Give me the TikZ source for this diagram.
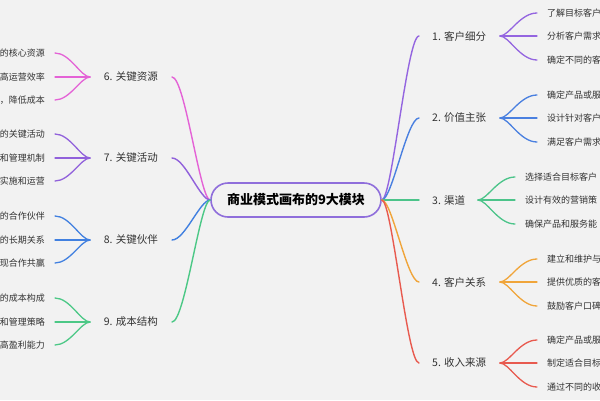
\documentclass[tikz,border=0pt]{standalone}
\usepackage{fontspec}
\setmainfont{Noto Sans CJK SC}
\definecolor{bgc}{HTML}{F2F2F2}
\definecolor{ctr}{HTML}{8F6EDB}
\definecolor{cA}{HTML}{9465E0}
\definecolor{cB}{HTML}{4A80E0}
\definecolor{cC}{HTML}{4CC48A}
\definecolor{cD}{HTML}{F0A53A}
\definecolor{cE}{HTML}{E85A4F}
\definecolor{cF}{HTML}{E462D6}
\definecolor{cG}{HTML}{9161DB}
\definecolor{cH}{HTML}{4180E0}
\definecolor{cI}{HTML}{4CC886}
\definecolor{txt}{HTML}{333333}
\begin{document}
\begin{tikzpicture}[x=1pt,y=-1pt,
  conn/.style={line width=1.4pt, line cap=round},
  twig/.style={line width=1.3pt, line cap=round},
  lbl/.style={font=\fontsize{10.5}{12}\selectfont, text=txt, inner sep=0pt},
  leaf/.style={font=\fontsize{9}{11}\selectfont, text=txt, inner sep=0pt},
  hub/.style={draw=ctr, line width=1.6pt, rounded corners=17pt, minimum width=170pt, minimum height=34pt, fill=bgc, font=\bfseries\fontsize{13}{15}\selectfont}]
\fill[bgc] (0,0) rectangle (600,400);
\useasboundingbox (0,0) rectangle (600,400);
\node[hub] (c) at (296,200) {商业模式画布的9大模块};
% right side
\foreach \i/\y/\col/\t/\a/\b/\cc/\o in {
 1/36/cA/客户细分/了解目标客户/分析客户需求/确定不同的客/500,
 2/118/cB/价值主张/确定产品或服/设计针对客户/满足客户需求/500,
 3/200/cC/渠道/选择适合目标客户/设计有效的营销策/确保产品和服务能/478,
 4/282/cD/客户关系/建立和维护与/提供优质的客/鼓励客户口碑/500,
 5/363/cE/收入来源/确定产品或服/制定适合目标/通过不同的收/500}
{
 \coordinate (re\i) at (419,\y);
 \node[lbl,anchor=west] (R\i) at (432,\y) {\i. \t};
 \draw[conn,\col] (c.east) .. controls (392,200) and (407,\y) .. (re\i);
 \coordinate (fo\i) at (\o,\y);
 \coordinate (le\i-a) at ({\o+37},{\y-23});
 \coordinate (le\i-b) at ({\o+37},\y);
 \coordinate (le\i-c) at ({\o+37},{\y+24});
 \draw[twig,\col] (fo\i) .. controls ({\o+9},\y) and ({\o+20},{\y-23}) .. (le\i-a);
 \draw[twig,\col] (fo\i) -- (le\i-b);
 \draw[twig,\col] (fo\i) .. controls ({\o+9},\y) and ({\o+20},{\y+24}) .. (le\i-c);
 \node[leaf,anchor=west] (L\i-a) at ({\o+47},{\y-23}) {\a};
 \node[leaf,anchor=west] (L\i-b) at ({\o+47},\y) {\b};
 \node[leaf,anchor=west] (L\i-c) at ({\o+47},{\y+24}) {\cc};
}
% left side
\foreach \i/\y/\col/\t/\a/\b/\cc in {
 6/77/cF/关键资源/的核心资源/高运营效率/，降低成本,
 7/158/cG/关键活动/的关键活动/和管理机制/实施和运营,
 8/240/cH/关键伙伴/的合作伙伴/的长期关系/现合作共赢,
 9/322/cI/成本结构/的成本构成/和管理策略/高盈利能力}
{
 \coordinate (re\i) at (172,\y);
 \node[lbl,anchor=east] (R\i) at (158,\y) {\i. \t};
 \draw[conn,\col] (c.west) .. controls (200,200) and (185,\y) .. (re\i);
 \coordinate (fo\i) at (90,\y);
 \coordinate (le\i-a) at (55,{\y-24});
 \coordinate (le\i-b) at (55,\y);
 \coordinate (le\i-c) at (55,{\y+23});
 \draw[twig,\col] (fo\i) .. controls (81,\y) and (70,{\y-24}) .. (le\i-a);
 \draw[twig,\col] (fo\i) -- (le\i-b);
 \draw[twig,\col] (fo\i) .. controls (81,\y) and (70,{\y+23}) .. (le\i-c);
 \node[leaf,anchor=east] (L\i-a) at (45,{\y-24}) {\a};
 \node[leaf,anchor=east] (L\i-b) at (45,\y) {\b};
 \node[leaf,anchor=east] (L\i-c) at (45,{\y+23}) {\cc};
}
\end{tikzpicture}
\end{document}
